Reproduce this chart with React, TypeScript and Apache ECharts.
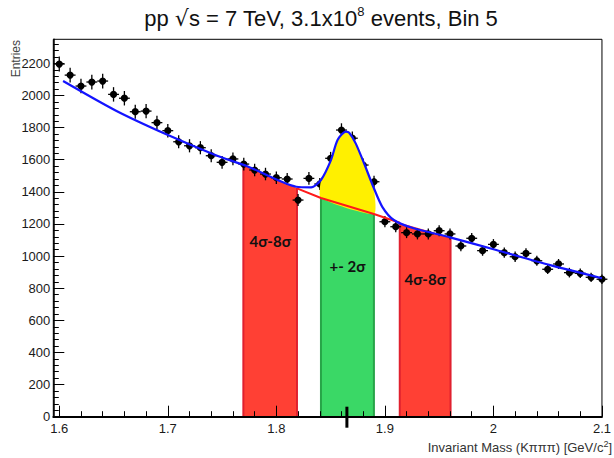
import React, { useEffect, useRef } from "react";
import * as echarts from "echarts";

// Histogram: bin centres (GeV/c^2), entries and their statistical errors
const binCenters = [
  1.6, 1.61, 1.62, 1.63, 1.64, 1.65, 1.66, 1.67, 1.68, 1.69,
  1.7, 1.71, 1.72, 1.73, 1.74, 1.75, 1.76, 1.77, 1.78, 1.79,
  1.8, 1.81, 1.82, 1.83, 1.84, 1.85, 1.86, 1.87, 1.88, 1.89,
  1.9, 1.91, 1.92, 1.93, 1.94, 1.95, 1.96, 1.97, 1.98, 1.99,
  2.0, 2.01, 2.02, 2.03, 2.04, 2.05, 2.06, 2.07, 2.08, 2.09, 2.1,
];
const entries = [
  2196, 2127, 2059, 2084, 2090, 2007, 1983, 1899, 1903, 1831,
  1781, 1712, 1687, 1675, 1625, 1584, 1605, 1573, 1536, 1511,
  1488, 1480, 1349, 1484, 1449, 1609, 1785, 1734, 1567, 1463,
  1214, 1183, 1146, 1138, 1138, 1158, 1138, 1063, 1111, 1034,
  1073, 1021, 996, 1017, 971, 918, 951, 897, 893, 868, 856,
];
const entryErrors = [
  47, 46, 45, 46, 46, 45, 45, 44, 44, 43,
  42, 41, 41, 41, 40, 40, 40, 40, 39, 39,
  39, 38, 37, 39, 38, 40, 42, 42, 40, 38,
  35, 34, 34, 34, 34, 34, 34, 33, 33, 32,
  33, 32, 32, 32, 31, 30, 31, 30, 30, 29, 29,
];
const halfBinWidth = 0.005;

// Fit: signal + background (blue curve)
const fitX = [
  1.6035, 1.6523, 1.698, 1.7437, 1.7741, 1.8183, 1.832, 1.8411, 1.8503,
  1.8564, 1.864, 1.8671, 1.8731, 1.8808, 1.8893, 1.8976, 1.9082, 1.9265,
  1.96, 2.0026, 2.0514, 2.1,
];
const fitY = [
  2090, 1905, 1760, 1630, 1557, 1432, 1428, 1474, 1598,
  1723, 1775, 1768, 1702, 1578, 1432, 1307, 1225, 1173,
  1117, 1038, 945, 862,
];

// Background under the peak (red line)
const bkgX = [1.819, 1.8411, 1.8899, 1.9137];
const bkgY = [1422, 1362, 1262, 1208];

// Upper edge of the signal region (yellow)
const peakTopX = [1.8411, 1.8503, 1.8564, 1.864, 1.8671, 1.8731, 1.8808, 1.8899];
const peakTopY = [1468, 1598, 1723, 1775, 1768, 1702, 1578, 1412];

// Side-band and signal windows
const bandStart = [1.7696, 1.8411, 1.9137];
const bandEnd = [1.819, 1.8899, 1.9605];
const bandTopStart = [1567, 1362, 1208];
const bandTopEnd = [1424, 1262, 1117];
const bandLabels = ["4σ-8σ", "+- 2σ", "4σ-8σ"];
const bandLabelY = [1095, 940, 856];
const bandFill = ["#ff4034", "#3ad866", "#ff4034"];
const bandEdge = ["#e0202e", "#27a448", "#e0202e"];

const peakMean = 1.865;

// Axes
const xMajorTicks = [1.6, 1.7, 1.8, 1.9, 2.0, 2.1];
const yMajorTicks = [0, 200, 400, 600, 800, 1000, 1200, 1400, 1600, 1800, 2000, 2200];
const xMin = 1.5945;
const xMax = 2.1;
const yMax = 2350;

const xMinorTicks: number[] = [];
for (let k = 0; k <= 25; k++) {
  const v = Math.round((1.6 + k * 0.02) * 1000) / 1000;
  if (!xMajorTicks.some((m) => Math.abs(m - v) < 1e-6)) xMinorTicks.push(v);
}
const yMinorTicks: number[] = [];
for (let v = 40; v < yMax; v += 40) {
  if (v % 200 !== 0) yMinorTicks.push(v);
}

const FONT = "Liberation Sans";

export default function App() {
  const ref = useRef<HTMLDivElement>(null);

  useEffect(() => {
    const chart = echarts.init(ref.current!, null, { renderer: "svg" });

    const option: any = {
      animation: false,
      backgroundColor: "#ffffff",
      textStyle: { fontFamily: FONT },
      grid: {
        left: 53.3,
        right: 7.3,
        top: 39.3,
        bottom: 41.3,
        show: true,
        borderColor: "#000",
        borderWidth: 1,
        backgroundColor: "transparent",
      },
      xAxis: [
        {
          type: "value",
          min: xMin,
          max: xMax,
          z: 10,
          axisLine: { show: true, onZero: false, lineStyle: { color: "#000", width: 2 } },
          axisTick: {
            show: true,
            inside: true,
            length: 11,
            customValues: xMajorTicks,
            lineStyle: { color: "#000", width: 1 },
          },
          axisLabel: {
            customValues: xMajorTicks,
            color: "#1a1a1a",
            fontSize: 13,
            fontFamily: FONT,
            margin: 5,
            formatter: (v: number) => String(v),
          },
          splitLine: { show: false },
        },
        {
          type: "value",
          min: xMin,
          max: xMax,
          position: "bottom",
          z: 10,
          axisLine: { show: false },
          axisTick: {
            show: true,
            inside: true,
            length: 5.5,
            customValues: xMinorTicks,
            lineStyle: { color: "#000", width: 1 },
          },
          axisLabel: { show: false },
          splitLine: { show: false },
        },
      ],
      yAxis: [
        {
          type: "value",
          min: 0,
          max: yMax,
          z: 10,
          axisLine: { show: true, onZero: false, lineStyle: { color: "#000", width: 1.5 } },
          axisTick: {
            show: true,
            inside: true,
            length: 11,
            customValues: yMajorTicks,
            lineStyle: { color: "#000", width: 1 },
          },
          axisLabel: {
            customValues: yMajorTicks,
            color: "#1a1a1a",
            fontSize: 13,
            fontFamily: FONT,
            margin: 3,
            formatter: (v: number) => String(v),
          },
          splitLine: { show: false },
        },
        {
          type: "value",
          min: 0,
          max: yMax,
          position: "left",
          z: 10,
          axisLine: { show: false },
          axisTick: {
            show: true,
            inside: true,
            length: 5.5,
            customValues: yMinorTicks,
            lineStyle: { color: "#000", width: 1 },
          },
          axisLabel: { show: false },
          splitLine: { show: false },
        },
      ],
      graphic: [
        {
          type: "text",
          x: 321,
          y: 18,
          style: {
            text: "{a|pp }{r|√}{a|s = 7 TeV, 3.1x10}{s|8}{a| events, Bin 5}",
            align: "center",
            verticalAlign: "middle",
            rich: {
              a: { fontSize: 22, fontFamily: FONT, fill: "#111", lineHeight: 26 },
              r: { fontSize: 22, fontFamily: "DejaVu Sans", fill: "#111", lineHeight: 26 },
              s: { fontSize: 13, fontFamily: FONT, fill: "#111", verticalAlign: "top", lineHeight: 14 },
            },
          },
        },
        {
          type: "text",
          x: 16,
          y: 40,
          rotation: Math.PI / 2,
          style: {
            text: "Entries",
            align: "right",
            verticalAlign: "middle",
            fontSize: 12,
            fontFamily: FONT,
            fill: "#444",
          },
        },
        {
          type: "text",
          x: 612,
          y: 447,
          style: {
            text: "{a|Invariant Mass (Kπππ) [GeV/c}{s|2}{a|]}",
            align: "right",
            verticalAlign: "middle",
            rich: {
              a: { fontSize: 13, fontFamily: FONT, fill: "#333", lineHeight: 15 },
              s: { fontSize: 9, fontFamily: FONT, fill: "#333", verticalAlign: "top", lineHeight: 9 },
            },
          },
        },
      ],
      series: [
        {
          // side bands and signal window
          type: "custom",
          z: 1,
          xAxisIndex: 0,
          yAxisIndex: 0,
          data: bandStart.map((s, i) => [s, bandEnd[i], bandTopStart[i], bandTopEnd[i], bandLabelY[i]]),
          encode: { x: [0, 1], y: [2, 3] },
          renderItem: (params: any, api: any) => {
            const i = params.dataIndex;
            const x0 = bandStart[i];
            const x1 = bandEnd[i];
            const p00 = api.coord([x0, 0]);
            const p01 = api.coord([x0, bandTopStart[i]]);
            const p11 = api.coord([x1, bandTopEnd[i]]);
            const p10 = api.coord([x1, 0]);
            const lab = api.coord([(x0 + x1) / 2, bandLabelY[i]]);
            return {
              type: "group",
              children: [
                { type: "polygon", shape: { points: [p00, p01, p11, p10] }, style: { fill: bandFill[i] } },
                {
                  type: "line",
                  shape: { x1: p00[0], y1: p00[1], x2: p01[0], y2: p01[1] },
                  style: { stroke: bandEdge[i], lineWidth: 2 },
                },
                {
                  type: "line",
                  shape: { x1: p10[0], y1: p10[1], x2: p11[0], y2: p11[1] },
                  style: { stroke: bandEdge[i], lineWidth: 2 },
                },
                {
                  type: "text",
                  x: lab[0],
                  y: lab[1],
                  style: {
                    text: bandLabels[i],
                    fill: "#111",
                    font: "bold 15px Lato",
                    align: "center",
                    verticalAlign: "middle",
                  },
                },
              ],
            };
          },
        },
        {
          // data points with error bars
          type: "custom",
          z: 2,
          xAxisIndex: 0,
          yAxisIndex: 0,
          data: binCenters.map((x, i) => [x, entries[i], entryErrors[i]]),
          encode: { x: 0, y: 1 },
          renderItem: (_params: any, api: any) => {
            const x = api.value(0);
            const y = api.value(1);
            const e = api.value(2);
            const c = api.coord([x, y]);
            const t = api.coord([x, y + e]);
            const b = api.coord([x, y - e]);
            const l = api.coord([x - halfBinWidth, y]);
            const r = api.coord([x + halfBinWidth, y]);
            return {
              type: "group",
              children: [
                { type: "line", shape: { x1: c[0], y1: t[1], x2: c[0], y2: b[1] }, style: { stroke: "#000", lineWidth: 1.3 } },
                { type: "line", shape: { x1: l[0], y1: c[1], x2: r[0], y2: c[1] }, style: { stroke: "#000", lineWidth: 1.3 } },
                { type: "circle", shape: { cx: c[0], cy: c[1], r: 3.6 }, style: { fill: "#000" } },
              ],
            };
          },
        },
        {
          // signal area between fit and background
          type: "custom",
          z: 3,
          xAxisIndex: 0,
          yAxisIndex: 0,
          data: [[peakTopX[0], peakTopY[0]]],
          renderItem: (_params: any, api: any) => {
            const pts: number[][] = peakTopX.map((x, i) => api.coord([x, peakTopY[i]]));
            for (let i = bkgX.length - 1; i >= 0; i--) {
              if (bkgX[i] >= peakTopX[0] - 1e-9 && bkgX[i] <= peakTopX[peakTopX.length - 1] + 1e-9) {
                pts.push(api.coord([bkgX[i], bkgY[i]]));
              }
            }
            return { type: "polygon", shape: { points: pts, smooth: 0.2 }, style: { fill: "#fff000" } };
          },
        },
        {
          type: "line",
          z: 4,
          xAxisIndex: 0,
          yAxisIndex: 0,
          data: bkgX.map((x, i) => [x, bkgY[i]]),
          symbol: "none",
          lineStyle: { color: "#ff1a1a", width: 2 },
        },
        {
          type: "line",
          z: 5,
          xAxisIndex: 0,
          yAxisIndex: 0,
          data: fitX.map((x, i) => [x, fitY[i]]),
          symbol: "none",
          smooth: 0.25,
          lineStyle: { color: "#1414ff", width: 2.2 },
        },
        {
          // marker at the peak mean
          type: "custom",
          z: 6,
          xAxisIndex: 0,
          yAxisIndex: 0,
          data: [[peakMean, 0]],
          renderItem: (_params: any, api: any) => {
            const c = api.coord([api.value(0), 0]);
            return {
              type: "line",
              shape: { x1: c[0], y1: c[1] - 10, x2: c[0], y2: c[1] + 11 },
              style: { stroke: "#000", lineWidth: 3 },
            };
          },
        },
      ],
    };

    chart.setOption(option);
    return () => chart.dispose();
  }, []);

  return (
    <div
      ref={ref}
      style={{ position: "absolute", left: 0, top: 0, width: 614, height: 458 }}
    />
  );
}
